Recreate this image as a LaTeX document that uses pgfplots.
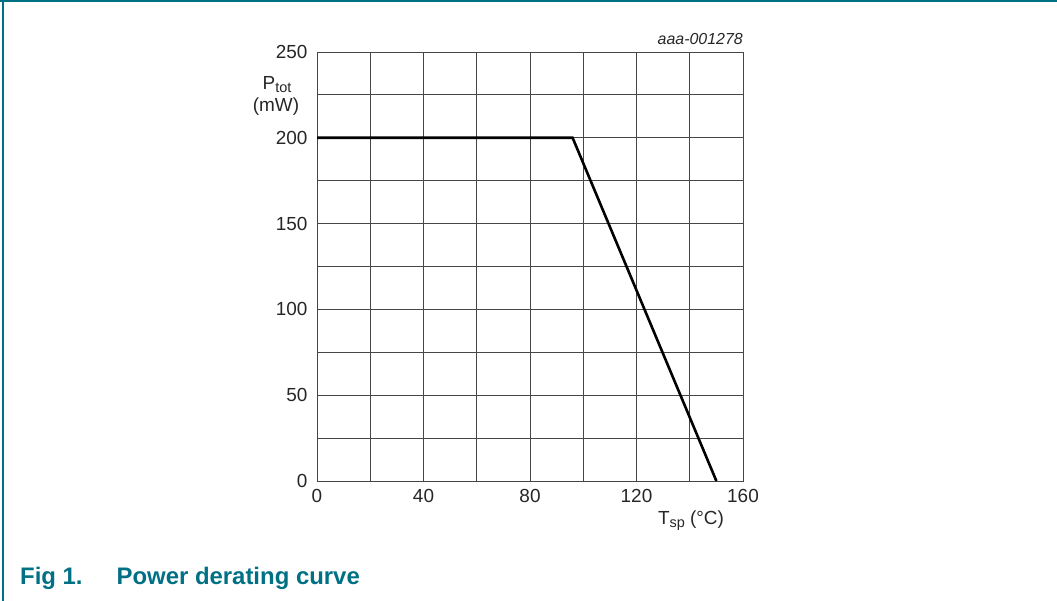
\documentclass[border=0pt]{standalone}
\usepackage{pgfplots}
\pgfplotsset{compat=1.18}
\usepackage{fontspec}
\setmainfont{Liberation Sans}
\definecolor{nxpteal}{RGB}{0,112,132}
\definecolor{gridgray}{RGB}{70,70,70}
\newcommand{\sub}[1]{\raisebox{-0.3ex}{\fontsize{14.5}{15}\selectfont #1}}

\begin{document}
\begin{tikzpicture}[x=1bp,y=1bp]
  \useasboundingbox (0,0) rectangle (1057,601);
  % frame of the figure
  \draw[nxpteal, line width=2bp] (0,600) -- (1057,600);
  \draw[nxpteal, line width=1.5bp] (3,601) -- (3,0);

  \begin{axis}[
      at={(317bp,120bp)}, anchor=south west,
      scale only axis,
      width=426bp, height=429bp,
      xmin=0, xmax=160, ymin=0, ymax=250,
      xtick={0,20,...,160},
      xticklabels={0,,40,,80,,120,,160},
      ytick={0,25,...,250},
      yticklabels={0,,50,,100,,150,,200,,250},
      major tick length=0pt,
      grid=major,
      grid style={gridgray, line width=0.8bp},
      axis line style={gridgray, line width=0.8bp},
      tick label style={font=\fontsize{19}{21}\selectfont, text=black!85},
      xticklabel style={yshift=-5bp},
      yticklabel style={xshift=-6bp},
      /pgf/number format/assume math mode=true,
      clip=false,
    ]
    \addplot[black, line width=2.6bp] coordinates {
      (0,200) (96,200) (150,0)
    };
    \node[anchor=base east, inner sep=0pt, font=\itshape\fontsize{16}{18}\selectfont, text=black!85]
      at ([yshift=7bp]axis cs:160,250) {aaa-001278};
  \end{axis}

  % axis titles
  \node[font=\fontsize{19}{21}\selectfont, text=black!85, anchor=base] at (277,511)
    {P\sub{tot}};
  \node[font=\fontsize{19}{21}\selectfont, text=black!85, anchor=base] at (276,489)
    {(mW)};
  \node[font=\fontsize{19}{21}\selectfont, text=black!85, anchor=base] at (691,76)
    {T\sub{sp} (°C)};
  % caption
  \node[anchor=base west, inner sep=0pt, font=\bfseries\fontsize{24}{26}\selectfont, text=nxpteal] at (20,16)
    {Fig 1.\hspace{34bp}Power derating curve};
\end{tikzpicture}
\end{document}
